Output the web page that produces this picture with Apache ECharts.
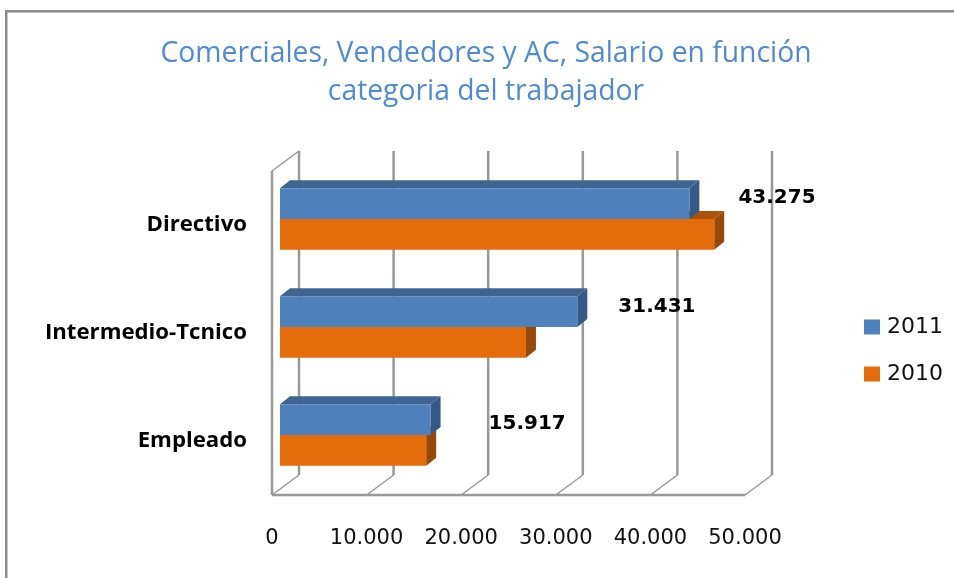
<!DOCTYPE html>
<html>
<head>
<meta charset="utf-8">
<style>
    html, body { margin: 0; padding: 0; background: #fff; }
    #chart { width: 954px; height: 578px; }
</style>
<script src="https://cdn.jsdelivr.net/npm/echarts@6/dist/echarts.min.js"></script>
</head>
<body>
<div id="chart"></div>
<script>
// datos
const categories = ['Directivo', 'Intermedio-Tcnico', 'Empleado']
const values2011 = [43275, 31431, 15917]
const values2010 = [45900, 26000, 15450]
const xTicks = [0, 10000, 20000, 30000, 40000, 50000]

// desplazamiento de las etiquetas respecto al final de la barra azul
const labelShift = [[49, 10], [41, 11], [58, 20]]

const fontName = '"Open Sans", "Noto Sans", sans-serif'
const numberFont = '"DejaVu Sans", sans-serif'
const wallColor = '#999999'

// profundidad del falso 3D
const wallDx = 27
const wallDy = 20
const barStart = 8
const barLift = 6
const barDepthX = 10
const barDepthY = 8

function formatNumber(v) {
    return String(v).replace(/\B(?=(\d{3})+$)/g, '.')
}

// paredes y suelo
function renderWalls(params, api) {
    const v = api.value(0)
    const front = api.coord([v, 2])
    const bottom = params.coordSys.y + params.coordSys.height
    const top = params.coordSys.y
    const x = front[0]
    const children = [
        { type: 'line', shape: { x1: x, y1: bottom, x2: x + wallDx, y2: bottom - wallDy }, style: { stroke: wallColor, lineWidth: 1.5 } },
        { type: 'line', shape: { x1: x + wallDx, y1: bottom - wallDy, x2: x + wallDx, y2: top - wallDy }, style: { stroke: wallColor, lineWidth: 2.5 } }
    ]
    if (v === 0) {
        children.push({ type: 'line', shape: { x1: x, y1: bottom, x2: x, y2: top }, style: { stroke: wallColor, lineWidth: 2.5 } })
        children.push({ type: 'line', shape: { x1: x, y1: top, x2: x + wallDx, y2: top - wallDy }, style: { stroke: wallColor, lineWidth: 1.5 } })
    }
    if (v > 0) {
        const prev = api.coord([v - 10000, 2])
        children.push({ type: 'line', shape: { x1: prev[0], y1: bottom, x2: x, y2: bottom }, style: { stroke: wallColor, lineWidth: 2.5 } })
    }
    return { type: 'group', children: children }
}

// barra con cara frontal, superior y lateral
function makeBarRender(side, front, topColor, sideColor, showLabel) {
    return function (params, api) {
        const i = api.value(1)
        const start = api.coord([0, i])
        const end = api.coord([api.value(0), i])
        const band = api.size([0, 1])[1]
        const h = band * 0.285
        const x0 = start[0] + barStart
        const x1 = end[0] + barStart
        const mid = start[1] - barLift
        const y0 = side === 'upper' ? mid - h : mid
        const y1 = y0 + h
        const children = [
            { type: 'polygon', shape: { points: [[x0, y0], [x0 + barDepthX, y0 - barDepthY], [x1 + barDepthX, y0 - barDepthY], [x1, y0]] }, style: { fill: topColor } },
            { type: 'polygon', shape: { points: [[x1, y0], [x1 + barDepthX, y0 - barDepthY], [x1 + barDepthX, y1 - barDepthY], [x1, y1]] }, style: { fill: sideColor } },
            { type: 'rect', shape: { x: x0, y: y0, width: x1 - x0, height: h }, style: { fill: front } }
        ]
        if (showLabel) {
            children.push({
                type: 'text',
                style: {
                    text: formatNumber(api.value(0)),
                    x: x1 + labelShift[i][0],
                    y: y0 + labelShift[i][1],
                    textAlign: 'left',
                    textVerticalAlign: 'middle',
                    fill: '#000',
                    font: 'bold 20px ' + numberFont
                }
            })
        }
        return { type: 'group', children: children }
    }
}

const chart = echarts.init(document.getElementById('chart'))
const option = {
    animation: false,
    backgroundColor: '#fff',
    title: {
        text: 'Comerciales, Vendedores y AC, Salario en función\ncategoria del trabajador',
        left: 481,
        top: 30,
        textAlign: 'center',
        textStyle: {
            color: '#4f8ad6',
            fontFamily: fontName,
            fontWeight: 500,
            fontSize: 28.3,
            lineHeight: 38
        }
    },
    graphic: [
        { type: 'rect', shape: { x: 5, y: 10, width: 949, height: 2.5 }, style: { fill: '#8c8c8c' } },
        { type: 'rect', shape: { x: 5, y: 10, width: 2.5, height: 568 }, style: { fill: '#8c8c8c' } }
    ],
    legend: {
        orient: 'vertical',
        left: 859,
        top: 311,
        itemWidth: 16,
        itemHeight: 15,
        itemGap: 25,
        icon: 'rect',
        data: ['2011', '2010'],
        textStyle: { color: '#111', fontFamily: numberFont, fontSize: 22, padding: [0, 0, 0, 2] }
    },
    grid: {
        left: 272,
        top: 171,
        width: 473,
        height: 324
    },
    xAxis: {
        type: 'value',
        min: 0,
        max: 50000,
        interval: 10000,
        axisLine: { show: false },
        axisTick: { show: false },
        splitLine: { show: false },
        axisLabel: {
            margin: 33,
            color: '#111',
            fontFamily: numberFont,
            fontSize: 21,
            formatter: function (v) { return formatNumber(v) }
        }
    },
    yAxis: {
        type: 'category',
        inverse: true,
        data: categories,
        axisLine: { show: false },
        axisTick: { show: false },
        axisLabel: {
            margin: 25,
            color: '#000',
            fontFamily: fontName,
            fontWeight: 'bold',
            fontSize: 22.2
        }
    },
    series: [
        {
            name: 'paredes',
            type: 'custom',
            silent: true,
            z: 1,
            encode: { x: 0 },
            renderItem: renderWalls,
            data: xTicks.map(function (v) { return [v] })
        },
        {
            name: '2010',
            type: 'custom',
            z: 2,
            itemStyle: { color: '#e46c0a' },
            encode: { x: 0, y: 1 },
            renderItem: makeBarRender('lower', '#e46c0a', '#ad5208', '#964908', false),
            data: values2010.map(function (v, i) { return [v, i] })
        },
        {
            name: '2011',
            type: 'custom',
            z: 3,
            itemStyle: { color: '#4f81bd' },
            encode: { x: 0, y: 1 },
            renderItem: makeBarRender('upper', '#4f81bd', '#3e6592', '#345a85', true),
            data: values2011.map(function (v, i) { return [v, i] })
        }
    ]
}
chart.setOption(option)
window.addEventListener('resize', () => {
    chart.resize()
})
</script>
</body>
</html>
